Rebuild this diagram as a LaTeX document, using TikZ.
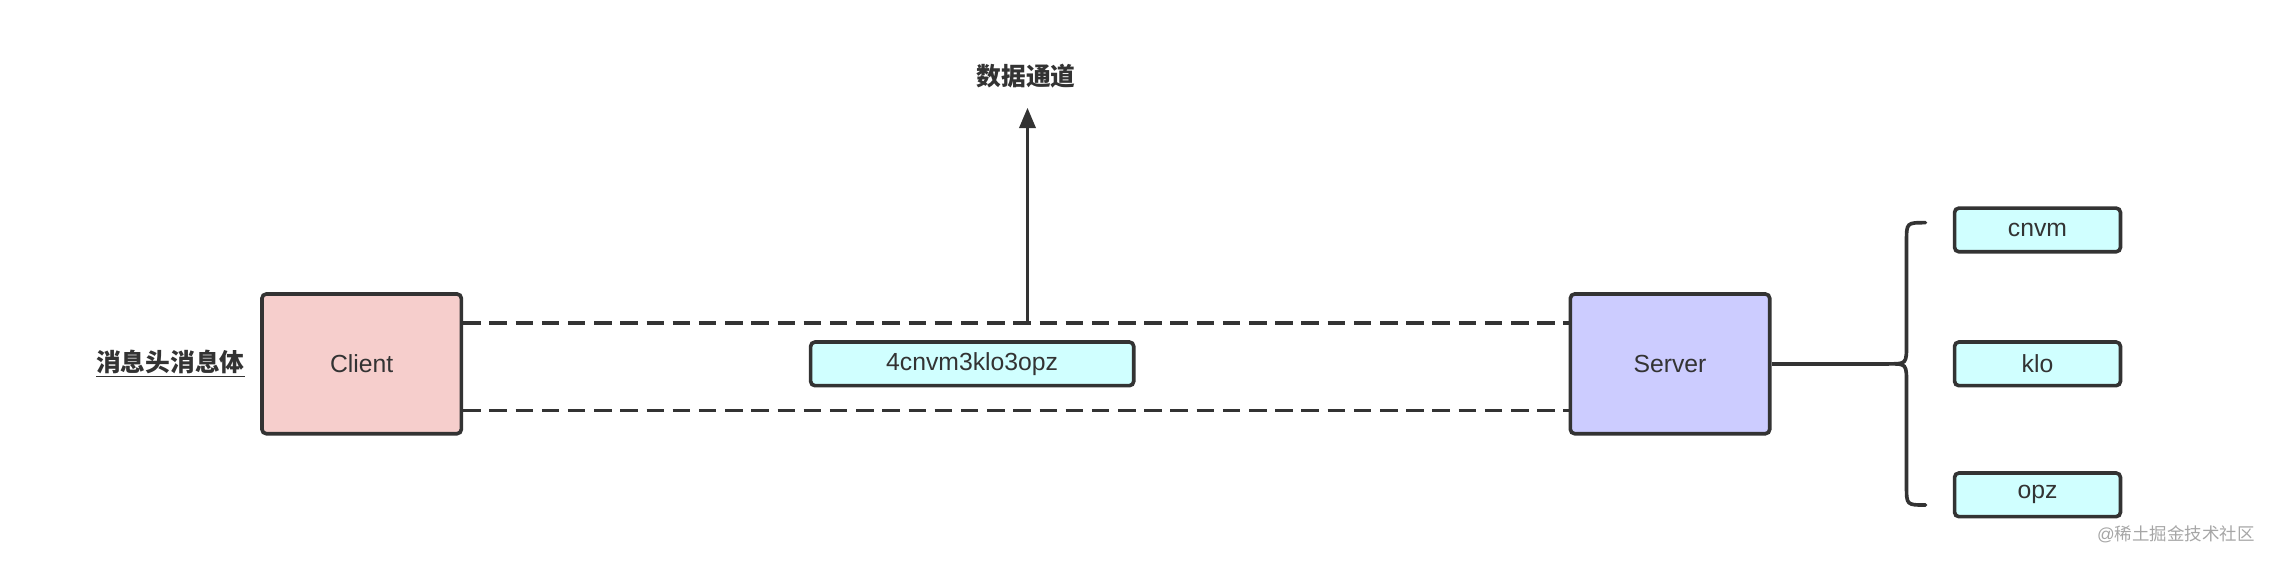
\documentclass[tikz,border=0pt]{standalone}
\usepackage{fontspec}
\setmainfont{Liberation Sans}
\newfontfamily\cjk{Noto Sans CJK SC}
\usetikzlibrary{arrows.meta}
\definecolor{ClientRed}{RGB}{246, 206, 204}
\definecolor{ServerBlue}{RGB}{204, 204, 255}
\definecolor{KeyCyan}{RGB}{208, 255, 255}
\definecolor{Edge}{RGB}{51, 51, 51}
\begin{document}
\begin{tikzpicture}[
        x=1pt, y=-1pt,
        font=\fontsize{17}{20}\selectfont,
        text=Edge,
        line width=2.5pt,
        peer/.style = {draw=Edge, rounded corners=3pt, minimum width=137pt, minimum height=96pt, inner sep=0pt},
        keybox/.style = {draw=Edge, fill=KeyCyan, rounded corners=3pt, minimum height=30pt, inner sep=0pt},
        link/.style = {draw=Edge, dash pattern=on 12pt off 6pt}
    ]
    \useasboundingbox (0,0) rectangle (1568,386);

    \node (C) at (248.5,250) [peer, fill=ClientRed] {Client};
    \node (S) at (1147.5,250) [peer, fill=ServerBlue] {Server};
    \node (M) at (668,250) [keybox, minimum width=222pt] {4cnvm3klo3opz};
    \node (K1) at (1400,158) [keybox, minimum width=114pt] {cnvm};
    \node (K2) at (1400,250) [keybox, minimum width=114pt] {klo};
    \node (K3) at (1400,340) [keybox, minimum width=114pt] {opz};
    \node (H) at (117,250) {\cjk\bfseries\underline{消息头消息体}};
    \node (T) at (705,52) {\cjk\bfseries 数据通道};
    \node (W) at (1495,367) [text=gray!70, font=\fontsize{12}{14}\selectfont] {@\cjk 稀土掘金技术社区};

    \draw[link] (C.east |- 0,222) -- (S.west |- 0,222);
    \draw[link] (C.east |- 0,282) -- (S.west |- 0,282);

    \coordinate (A) at (706,222);
    \draw[Edge, -{Triangle[length=14pt, width=11pt]}] (A) -- (706,74);

    % brace towards the keys
    \coordinate (B) at (1298,250);
    \draw[Edge] (S.east) -- (B);
    \draw[Edge, line cap=round] (1323,153) .. controls (1310,153) .. (1310,166)
        -- (1310,236) .. controls (1310,250) .. (B)
        .. controls (1310,250) .. (1310,264)
        -- (1310,334) .. controls (1310,347) .. (1323,347);
\end{tikzpicture}
\end{document}
